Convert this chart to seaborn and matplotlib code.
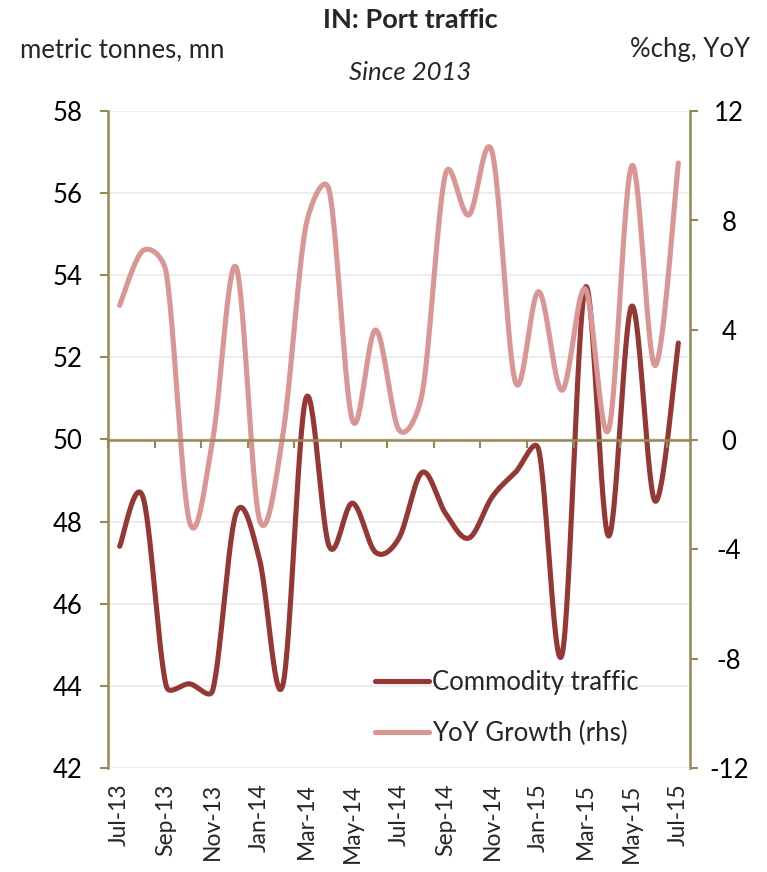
import numpy as np
import pandas as pd
import matplotlib
matplotlib.use("Agg")
import matplotlib.pyplot as plt
import seaborn as sns
from matplotlib.ticker import FixedLocator, NullFormatter, FixedFormatter

# ---------------- data ----------------
months = ["Jul-13", "Aug-13", "Sep-13", "Oct-13", "Nov-13", "Dec-13",
          "Jan-14", "Feb-14", "Mar-14", "Apr-14", "May-14", "Jun-14",
          "Jul-14", "Aug-14", "Sep-14", "Oct-14", "Nov-14", "Dec-14",
          "Jan-15", "Feb-15", "Mar-15", "Apr-15", "May-15", "Jun-15", "Jul-15"]
commodity = [47.4, 48.6, 44.0, 44.05, 43.9, 48.2, 47.1, 44.0, 51.0, 47.4,
             48.45, 47.25, 47.6, 49.2, 48.2, 47.6, 48.6, 49.2, 49.75, 44.75,
             53.7, 47.65, 53.25, 48.5, 52.35]
yoy = [4.9, 6.9, 6.1, -3.0, 0.0, 6.3, -2.9, 0.1, 7.8, 9.1,
       0.7, 4.0, 0.35, 1.7, 9.7, 8.2, 10.5, 2.1, 5.4, 1.8,
       5.5, 0.35, 10.0, 2.7, 10.1]
left_ticks = [42, 44, 46, 48, 50, 52, 54, 56, 58]
right_ticks = [-12, -8, -4, 0, 4, 8, 12]

DARK = "#953735"
PINK = "#D99694"
OLIVE = "#948A54"
GRID = "#EDEDED"

# axes box in pixels
AX_L, AX_R, AX_T, AX_B = 108, 690, 111, 768
W, H = 767, 872


def smooth(xs, ys, sx, sy, n=30):
    """Excel-style smoothed line: Bezier through the points, tangent clamped
    (computed in screen space, scale sx/sy pixels per data unit)."""
    P = np.column_stack([np.asarray(xs, float) * sx, np.asarray(ys, float) * sy])
    Pp = np.vstack([P[0], P, P[-1]])
    out = []
    t = np.linspace(0, 1, n, endpoint=False)
    for i in range(len(P) - 1):
        p0, p1, p2, p3 = Pp[i], Pp[i + 1], Pp[i + 2], Pp[i + 3]
        d02 = np.linalg.norm(p2 - p0)
        d12 = np.linalg.norm(p2 - p1)
        d13 = np.linalg.norm(p3 - p1)
        f1 = 1 / 6 if d02 / 6 < d12 / 2 else d12 / (2 * d02)
        f2 = 1 / 6 if d13 / 6 < d12 / 2 else d12 / (2 * d13)
        c1 = p1 + f1 * (p2 - p0)
        c2 = p2 - f2 * (p3 - p1)
        b = ((1 - t) ** 3)[:, None] * p1 + (3 * (1 - t) ** 2 * t)[:, None] * c1 \
            + (3 * (1 - t) * t ** 2)[:, None] * c2 + (t ** 3)[:, None] * p2
        out.append(b)
    out.append(P[-1:])
    B = np.vstack(out)
    return B[:, 0] / sx, B[:, 1] / sy


x_idx = np.arange(len(months))
sx = (AX_R - AX_L) / len(months)
cx, cy = smooth(x_idx, commodity, sx, (AX_B - AX_T) / (left_ticks[-1] - left_ticks[0]))
yx, yy = smooth(x_idx, yoy, sx, (AX_B - AX_T) / (right_ticks[-1] - right_ticks[0]))
df_c = pd.DataFrame({"x": cx, "y": cy})
df_y = pd.DataFrame({"x": yx, "y": yy})

# ---------------- figure ----------------
sns.set_theme(style="white")
plt.rcParams["font.family"] = ["Lato", "DejaVu Sans"]
FS = 18.5
FSX = 16.5

fig = plt.figure(figsize=(W / 100, H / 100), dpi=100)
ax = fig.add_axes([AX_L / W, 1 - AX_B / H, (AX_R - AX_L) / W, (AX_B - AX_T) / H])
ax2 = ax.twinx()

sns.lineplot(data=df_c, x="x", y="y", ax=ax, color=DARK, lw=3.7,
             sort=False, estimator=None, legend=False)
sns.lineplot(data=df_y, x="x", y="y", ax=ax2, color=PINK, lw=3.7,
             sort=False, estimator=None, legend=False)

ax.set_xlim(-0.5, len(months) - 0.5)
ax.set_ylim(left_ticks[0], left_ticks[-1])
ax2.set_ylim(right_ticks[0], right_ticks[-1])
for a in (ax, ax2):
    a.set_xlabel("")
    a.set_ylabel("")

# y axes
ax.set_yticks(left_ticks)
ax.set_yticklabels([str(v) for v in left_ticks], fontsize=FS)
ax2.set_yticks(right_ticks)
ax2.set_yticklabels([str(v) for v in right_ticks], fontsize=FS)
ax.yaxis.grid(True, color=GRID, lw=1.5)
ax.set_axisbelow(True)
ax.tick_params(axis="y", which="major", direction="out", length=6, width=1.5,
               color=OLIVE, pad=12.5, labelcolor="black", left=True)
ax2.tick_params(axis="y", which="major", direction="out", length=6, width=1.5,
                color=OLIVE, pad=22, labelcolor="black", right=True)
for lab in ax2.get_yticklabels():
    lab.set_horizontalalignment("center")

for a in (ax, ax2):
    for s in a.spines.values():
        s.set_visible(False)
ax.spines["left"].set_visible(True)
ax.spines["left"].set_color(OLIVE)
ax.spines["left"].set_linewidth(1.8)
ax2.spines["right"].set_visible(True)
ax2.spines["right"].set_color(OLIVE)
ax2.spines["right"].set_linewidth(1.8)

# x axis: labels at bottom (ax, minor ticks), category boundary ticks on zero line (ax2)
label_pos = list(x_idx[::2])
bound_pos = list(np.arange(-0.5, len(months), 2.0))
ax.xaxis.set_minor_locator(FixedLocator(label_pos))
ax.xaxis.set_minor_formatter(FixedFormatter(months[::2]))
ax.xaxis.set_major_locator(FixedLocator(bound_pos))
ax.xaxis.set_major_formatter(NullFormatter())
ax.tick_params(axis="x", which="both", length=0, bottom=True, labelbottom=True)
ax.tick_params(axis="x", which="minor", labelsize=FSX, rotation=90, pad=11)
for lab in ax.get_xticklabels(minor=True):
    lab.set_verticalalignment("top")
    lab.set_horizontalalignment("center")

ax2.xaxis.set_visible(True)
ax2.spines["bottom"].set_visible(True)
ax2.spines["bottom"].set_position(("data", 0))
ax2.spines["bottom"].set_color(OLIVE)
ax2.spines["bottom"].set_linewidth(1.8)
ax2.tick_params(axis="x", which="major", direction="out", length=6, width=1.5,
                color=OLIVE, bottom=True, labelbottom=False, top=False)
ax2.tick_params(axis="x", which="minor", length=0, labelbottom=False)

# legend
h1 = ax.get_lines()[0]
h2 = ax2.get_lines()[0]
fig.legend([h1, h2], ["Commodity traffic", "YoY Growth (rhs)"],
           loc="upper left", bbox_to_anchor=(375 / W, 1 - 670 / H),
           bbox_transform=fig.transFigure, frameon=False, fontsize=FS,
           handlelength=2.1, handletextpad=0.12, labelspacing=1.0,
           borderpad=0, borderaxespad=0)

# header texts
fig.text(410 / W, 1 - 20 / H, "IN: Port traffic", ha="center", va="center",
         fontsize=19.5, fontweight="bold")
fig.text(20 / W, 1 - 50 / H, "metric tonnes, mn", ha="left", va="center", fontsize=FS)
fig.text(750 / W, 1 - 50 / H, "%chg, YoY", ha="right", va="center", fontsize=FS)
fig.text(410 / W, 1 - 72 / H, "Since 2013", ha="center", va="center",
         fontsize=FS, fontstyle="italic")

fig.savefig("out.png", dpi=100, facecolor="white")
